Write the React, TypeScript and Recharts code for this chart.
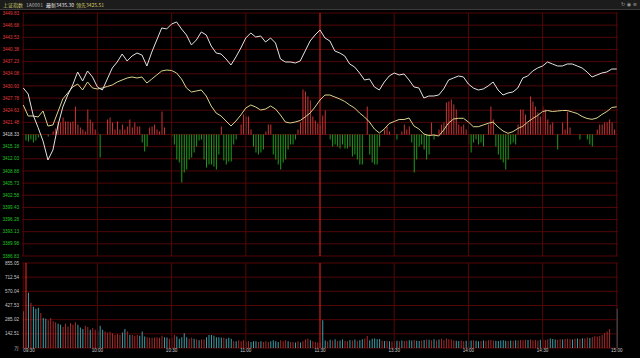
import { Bar, CartesianGrid, Cell, ComposedChart, Line, ReferenceLine, XAxis, YAxis } from "recharts";

// price axis labels, top to bottom
const priceLabels = [
  "3449.83", "3446.68", "3443.53", "3440.38", "3437.23", "3434.08", "3430.93", "3427.78", "3424.63", "3421.48",
  "3418.33",
  "3415.18", "3412.03", "3408.88", "3405.73", "3402.58", "3399.43", "3396.28", "3393.13", "3389.98", "3386.83"
];
const pctLabels = [
  "0.92%", "0.83%", "0.74%", "0.65%", "0.55%", "0.46%", "0.37%", "0.28%", "0.18%", "0.09%",
  "0.00%",
  "-0.09%", "-0.18%", "-0.28%", "-0.37%", "-0.46%", "-0.55%", "-0.65%", "-0.74%", "-0.83%", "-0.92%"
];
const volLabels = ["855.05", "712.54", "570.04", "427.53", "285.02", "142.51", "万"];
const volTicks = [855.05, 712.54, 570.04, 427.53, 285.02, 142.51, 0];
const timeLabels = ["09:30", "10:00", "10:30", "11:00", "11:30", "13:30", "14:00", "14:30", "15:00"];
const timeMinutes = [0, 30, 60, 90, 120, 150, 180, 210, 240];

const basePrice = 3418.33;

// index (white) and leading line (yellow), one point every 2 minutes
const indexLine = [
  3430.39, 3428.83, 3423.39, 3420.15, 3416.64, 3411.72, 3414.31, 3420.53, 3425.46, 3428.57,
  3431.17, 3434.54, 3432.2, 3434.8, 3433.24, 3430.65, 3429.87, 3432.72, 3435.57, 3437.13,
  3439.2, 3437.39, 3438.69, 3439.46, 3438.94, 3436.09, 3439.72, 3442.83, 3445.95, 3445.69,
  3446.98, 3447.5, 3445.69, 3444.13, 3441.54, 3442.83, 3444.91, 3444.13, 3441.28, 3439.46,
  3439.2, 3437.91, 3436.35, 3438.43, 3440.76, 3443.35, 3444.65, 3443.61, 3443.87, 3442.31,
  3443.35, 3442.06, 3437.91, 3437.13, 3437.13, 3436.87, 3437.39, 3439.98, 3442.57, 3444.13,
  3445.43, 3443.35, 3442.57, 3439.98, 3439.46, 3438.69, 3436.61, 3435.83, 3434.28, 3432.46,
  3432.72, 3430.65, 3429.87, 3431.94, 3433.5, 3434.28, 3433.76, 3434.02, 3432.46, 3430.65,
  3430.39, 3427.79, 3428.31, 3428.31, 3428.57, 3430.13, 3432.46, 3432.98, 3433.5, 3433.24,
  3431.42, 3430.39, 3429.87, 3430.13, 3430.91, 3431.94, 3429.87, 3428.57, 3429.09, 3429.35,
  3430.39, 3432.98, 3433.5, 3434.8, 3435.57, 3436.09, 3437.13, 3436.61, 3436.09, 3436.09,
  3436.61, 3436.61, 3436.09, 3435.57, 3434.54, 3433.24, 3433.76, 3434.28, 3434.54, 3435.31,
  3435.3
];
const leadLine = [
  3425.98, 3423.13, 3423.13, 3422.87, 3424.42, 3420.53, 3420.79, 3424.16, 3427.54, 3429.09,
  3430.65, 3431.42, 3429.87, 3431.94, 3430.39, 3430.13, 3430.39, 3430.78, 3431.17, 3431.94,
  3432.46, 3432.98, 3433.24, 3432.98, 3433.24, 3431.68, 3432.72, 3433.76, 3434.8, 3435.05,
  3434.92, 3434.28, 3432.72, 3430.39, 3429.35, 3429.61, 3429.87, 3428.31, 3425.72, 3423.9,
  3423.13, 3421.83, 3420.53, 3421.83, 3423.39, 3425.2, 3425.98, 3425.46, 3424.68, 3424.94,
  3425.72, 3424.94, 3423.39, 3421.57, 3421.31, 3421.57, 3421.96, 3422.87, 3423.9, 3425.46,
  3427.28, 3428.57, 3428.57, 3428.05, 3427.54, 3426.89, 3425.98, 3425.2, 3423.9, 3422.87,
  3421.57, 3419.76, 3418.72, 3419.76, 3421.18, 3421.7, 3422.22, 3422.22, 3422.61, 3420.53,
  3419.76, 3418.46, 3418.07, 3418.2, 3417.94, 3419.5, 3421.31, 3422.35, 3422.53, 3422.53,
  3421.57, 3420.35, 3420.35, 3420.79, 3421.23, 3421.57, 3420.27, 3419.24, 3418.64, 3419.06,
  3419.89, 3420.46, 3421.57, 3422.48, 3423.26, 3424.29, 3424.55, 3424.29, 3424.42, 3424.55,
  3424.55, 3424.16, 3423.78, 3423.0, 3422.48, 3422.27, 3422.61, 3423.52, 3424.29, 3425.33,
  3425.51
];

// buy/sell strength per minute (red up, green down)
const strength = [
  0, -6, -7, -5, -8, -6, -3, 0, 0, 0,
  -2, 0, 3, 6, 13, 12, 17, 13, 13, 12,
  13, 28, 10, 7, 5, 3, 25, 15, 12, 5,
  2, -23, 0, 0, 15, 17, 12, 5, 13, 5,
  10, 5, 8, 15, 7, 12, 8, 8, -8, -17,
  -12, 7, 8, 10, 5, 3, 23, 7, 0, 0,
  -2, -10, -25, -28, -48, -38, -35, -25, -23, -18,
  -12, -6, -5, -25, -33, -30, -30, -32, -35, -20,
  8, -26, -30, -27, -27, -10, -5, 0, 10, 20,
  18, 18, 5, -12, -18, -20, -18, -15, 3, 10,
  10, -20, -25, -30, -35, -28, -25, -15, -10, -10,
  -5, 5, 12, 45, 43, 38, 34, 18, 14, 11,
  9, 19, 24, 0, -5, -12, -10, -12, -14, -10,
  -14, -14, -12, -22, -20, -25, -30, -30, 0, 28,
  -20, -28, -30, -30, -12, 0, 5, 8, 3, 0,
  8, -5, 0, 3, 10, 5, 8, -8, -38, -25,
  -12, -10, -15, -25, -20, 12, -5, 0, 5, 10,
  12, 32, 33, 35, 30, 25, 10, 8, 10, 5,
  -10, -18, -8, -5, -10, -8, -12, 0, 10, 28,
  15, -12, -20, -25, -28, -35, -25, -10, -8, -10,
  10, 25, 25, 20, 12, 38, 33, 28, 22, 18,
  28, 25, 15, 10, 12, 0, -15, 0, 12, 5,
  23, 7, 0, 0, 0, -5, 0, 0, -5, -10,
  -12, 0, 5, 10, 10, 12, 12, 15, 12, 5, 0
];

// volume per minute
const volume = [
  370, 900, 557, 455, 414, 394, 404, 353, 302, 295,
  278, 302, 268, 258, 244, 234, 210, 244, 217, 251,
  234, 258, 234, 207, 190, 224, 210, 183, 200, 183,
  173, 224, 183, 166, 156, 163, 149, 132, 142, 132,
  156, 190, 166, 132, 132, 122, 132, 122, 166, 115,
  108, 102, 102, 105, 108, 102, 122, 108, 105, 92,
  102, 132, 115, 92, 108, 149, 108, 92, 102, 92,
  85, 78, 85, 85, 108, 132, 132, 122, 108, 108,
  102, 102, 92, 102, 92, 68, 68, 78, 68, 78,
  68, 68, 61, 68, 68, 61, 68, 61, 68, 61,
  68, 78, 68, 61, 78, 68, 78, 68, 61, 61,
  55, 68, 55, 68, 85, 92, 78, 68, 61, 55,
  55, 278, 75, 68, 82, 75, 88, 70, 75, 85,
  72, 68, 80, 75, 85, 72, 78, 88, 95, 120,
  78, 92, 95, 88, 90, 75, 70, 72, 68, 65,
  70, 72, 68, 75, 70, 72, 78, 75, 80, 72,
  70, 75, 80, 85, 82, 78, 88, 75, 85, 92,
  80, 95, 88, 85, 78, 72, 70, 75, 68, 72,
  70, 75, 78, 72, 68, 70, 75, 72, 78, 80,
  75, 72, 70, 75, 78, 72, 70, 75, 72, 78,
  75, 80, 78, 82, 80, 85, 78, 80, 75, 82,
  85, 80, 88, 95, 90, 85, 82, 88, 85, 90,
  92, 88, 85, 92, 95, 90, 98, 95, 105, 100,
  110, 118, 115, 120, 130, 150, 165, 190, 0, 0, 395
];

// volume bar colour per minute: r up, c down, w auction, R opening
const volumeDirs = [
  "wRcrcccrcc", "rrrrccrrrr", "rrcccrrcrr", "cccrrrrrrr", "ccrcrrrccc", "rrrrrrrccr",
  "rrcccccrrc", "rcrrcccccc", "crcccrcrrr", "rrcccrcrrr", "ccccrrrcrr", "crcrrrcrrr",
  "rccrcrcrcc", "rrcrcrccrr", "cccccrcrcr", "rcrcrrccrc", "crcrcrcrcr", "rrrrrccrrc",
  "ccrccrcrrr", "rcccccrcrc", "rrrrcrrrrc", "rrrcccrrcr", "rrcrcrcrrc", "rrrrrrrrrrc"
].join("");

const volColors: Record<string, string> = { r: "#a82a2a", c: "#3f9ea6", w: "#e6e0d2", R: "#ff2424" };

const rows = volume.map((v, i) => ({
  m: i,
  w: i % 2 === 0 ? indexLine[i / 2] : null,
  y: i % 2 === 0 ? leadLine[i / 2] : null,
  s: strength[i],
  v,
  d: volumeDirs[i] ?? "r"
}));

const priceTicks = priceLabels.map(Number);
const font = "'Liberation Sans', Arial, sans-serif";
const gridRed = "#520707";

function PriceTick(props: any) {
  const { x, y, payload } = props;
  const v = Number(payload.value);
  const fill = v > basePrice + 0.01 ? "#e13a3a" : v < basePrice - 0.01 ? "#22c422" : "#d8d8d8";
  return (
    <text x={x} y={y} dy={1.6} textAnchor="end" fontSize={4.6} fill={fill} fontFamily={font}>
      {v.toFixed(2)}
    </text>
  );
}

function PctTick(props: any) {
  const { x, y, payload } = props;
  const i = priceTicks.indexOf(Number(payload.value));
  const fill = i < 10 ? "#e13a3a" : i > 10 ? "#22c422" : "#d8d8d8";
  return (
    <text x={x} y={y} dy={1.6} textAnchor="start" fontSize={4.6} fill={fill} fontFamily={font}>
      {pctLabels[i]}
    </text>
  );
}

function VolTick(props: any) {
  const { x, y, payload, anchor } = props;
  const i = volTicks.indexOf(Number(payload.value));
  return (
    <text x={x} y={y} dy={1.6} textAnchor={anchor} fontSize={4.6} fill="#c8c8c8" fontFamily={font}>
      {volLabels[i]}
    </text>
  );
}

function TimeTick(props: any) {
  const { x, y, payload } = props;
  const i = timeMinutes.indexOf(Number(payload.value));
  return (
    <text x={x} y={y} dy={3.4} textAnchor={i === 0 ? "start" : "middle"} fontSize={4.6} fill="#c8c8c8" fontFamily={font}>
      {timeLabels[i]}
    </text>
  );
}

export default function App() {
  return (
    <div style={{ position: "relative", width: 640, height: 358, background: "#000", overflow: "hidden" }}>
      <style>{"body{margin:0;background:#000}"}</style>
      <div
        style={{
          position: "absolute",
          left: 0,
          top: 0,
          width: 640,
          height: 9,
          background: "#1c1c1c",
          borderBottom: "1px solid #3a3a3a",
          fontFamily: "'Noto Sans CJK SC', " + font,
          fontSize: 5,
          lineHeight: "9px",
          whiteSpace: "nowrap"
        }}
      >
        <span style={{ position: "absolute", left: 3, color: "#c4c46a" }}>上证指数</span>
        <span style={{ position: "absolute", left: 26, color: "#b0b0b0" }}>1A0001</span>
        <span style={{ position: "absolute", left: 46, color: "#e6e6e6" }}>最新3435.30</span>
        <span style={{ position: "absolute", left: 76, color: "#d8cc6a" }}>领先3425.51</span>
        <span style={{ position: "absolute", left: 621, color: "#9a9a9a", fontFamily: "'DejaVu Sans'", fontSize: 5 }}>↻ ◉ ⊗</span>
      </div>

      <div style={{ position: "absolute", left: 0, top: 0 }}>
        <ComposedChart width={640} height={258} data={rows} margin={{ top: 13, right: 0, bottom: 2, left: 0 }}>
          <CartesianGrid yAxisId="p" vertical={false} stroke={gridRed} strokeWidth={1} />
          <XAxis dataKey="m" hide ticks={timeMinutes} />
          <YAxis
            yAxisId="p"
            orientation="left"
            width={22}
            domain={[priceTicks[priceTicks.length - 1], priceTicks[0]]}
            ticks={priceTicks}
            interval={0}
            axisLine={false}
            tickLine={false}
            tickSize={0}
            tickMargin={3}
            tick={<PriceTick />}
          />
          <YAxis
            yAxisId="r"
            orientation="right"
            width={22}
            domain={[priceTicks[priceTicks.length - 1], priceTicks[0]]}
            ticks={priceTicks}
            interval={0}
            axisLine={false}
            tickLine={false}
            tickSize={0}
            tickMargin={4}
            tick={<PctTick />}
          />
          <YAxis yAxisId="s" hide domain={[-121.5, 121.5]} />
          {timeMinutes.map((t) => (
            <ReferenceLine
              key={t}
              yAxisId="p"
              x={t}
              stroke={t === 120 ? "#b01a1a" : gridRed}
              strokeWidth={t === 120 ? 1.4 : 1}
            />
          ))}
          <Bar yAxisId="s" dataKey="s" barSize={1} isAnimationActive={false}>
            {rows.map((r) => (
              <Cell key={r.m} fill={r.s >= 0 ? "#cc3434" : "#1f9c1f"} />
            ))}
          </Bar>
          <Line
            yAxisId="p"
            type="linear"
            dataKey="y"
            stroke="#d9d48e"
            strokeWidth={1}
            dot={false}
            connectNulls
            isAnimationActive={false}
          />
          <Line
            yAxisId="p"
            type="linear"
            dataKey="w"
            stroke="#e2e2e2"
            strokeWidth={1}
            dot={false}
            connectNulls
            isAnimationActive={false}
          />
        </ComposedChart>
      </div>

      <div style={{ position: "absolute", left: 0, top: 258 }}>
        <ComposedChart width={640} height={100} data={rows} margin={{ top: 5, right: 0, bottom: 0, left: 0 }}>
          <CartesianGrid yAxisId="v" vertical={false} stroke={gridRed} strokeWidth={1} />
          <XAxis
            dataKey="m"
            ticks={timeMinutes}
            interval={0}
            height={10}
            axisLine={false}
            tickLine={false}
            tickSize={0}
            tickMargin={1}
            tick={<TimeTick />}
          />
          <YAxis
            yAxisId="v"
            orientation="left"
            width={22}
            domain={[0, 855.05]}
            allowDataOverflow
            ticks={volTicks}
            interval={0}
            axisLine={false}
            tickLine={false}
            tickSize={0}
            tickMargin={3}
            tick={<VolTick anchor="end" />}
          />
          <YAxis
            yAxisId="v2"
            orientation="right"
            width={22}
            domain={[0, 855.05]}
            ticks={volTicks}
            interval={0}
            axisLine={false}
            tickLine={false}
            tickSize={0}
            tickMargin={4}
            tick={<VolTick anchor="start" />}
          />
          {timeMinutes.map((t) => (
            <ReferenceLine
              key={t}
              yAxisId="v"
              x={t}
              stroke={t === 120 ? "#b01a1a" : gridRed}
              strokeWidth={t === 120 ? 1.4 : 1}
            />
          ))}
          <Bar yAxisId="v" dataKey="v" barSize={1} isAnimationActive={false}>
            {rows.map((r) => (
              <Cell key={r.m} fill={volColors[r.d] ?? volColors.r} />
            ))}
          </Bar>
        </ComposedChart>
      </div>
    </div>
  );
}
